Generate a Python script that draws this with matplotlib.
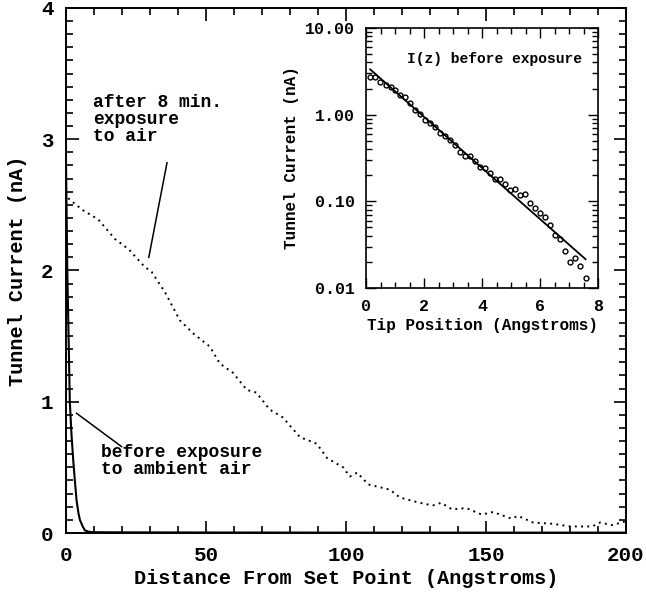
import matplotlib
matplotlib.use("Agg")
import matplotlib.pyplot as plt
from matplotlib.ticker import MultipleLocator, LogLocator, FixedLocator, NullFormatter

plt.rcParams['font.family'] = ['Liberation Mono', 'DejaVu Sans Mono']
plt.rcParams['font.weight'] = 'bold'
plt.rcParams['axes.labelweight'] = 'bold'

# main plot: current vs distance
after_x = [0.8, 6.0, 11.5, 17.5, 22.5, 28.0, 30.6, 35.5, 40.7, 45.5, 51.4, 55.0, 59.7,
           64.6, 68.0, 72.8, 77.5, 83.6, 89.6, 93.3, 99.0, 101.4, 104.0, 108.0, 115.7,
           119.3, 126.4, 131.0, 134.0, 137.9, 143.0, 148.5, 152.5, 159.0, 161.5, 166.8,
           174.0, 180.0, 188.0, 190.7, 195.0, 198.5, 200.0]
after_y = [2.55, 2.46, 2.39, 2.24, 2.16, 2.03, 1.99, 1.83, 1.62, 1.52, 1.42, 1.29, 1.22,
           1.09, 1.07, 0.94, 0.88, 0.73, 0.68, 0.57, 0.50, 0.43, 0.46, 0.37, 0.33,
           0.27, 0.23, 0.21, 0.23, 0.18, 0.19, 0.14, 0.16, 0.11, 0.13, 0.08,
           0.07, 0.05, 0.05, 0.08, 0.06, 0.08, 0.09]

before_x = [0.0, 0.5, 1.0, 1.4, 2.0, 2.6, 3.2, 3.8, 4.5, 5.0, 6.0, 6.8, 8.0, 10.0, 20.0,
            50.0, 100.0, 150.0, 200.0]
before_y = [2.9, 2.0, 1.45, 1.0, 0.75, 0.56, 0.40, 0.25, 0.15, 0.10, 0.05, 0.02, 0.01,
            0.006, 0.005, 0.004, 0.003, 0.003, 0.003]

# inset: log current vs tip position
tip_z = [0.14, 0.31, 0.48, 0.69, 0.85, 1.0, 1.17, 1.34, 1.52, 1.69, 1.86, 2.03, 2.2,
         2.38, 2.55, 2.72, 2.9, 3.07, 3.24, 3.41, 3.59, 3.76, 3.93, 4.1, 4.28, 4.45,
         4.62, 4.79, 4.97, 5.14, 5.31, 5.48, 5.66, 5.83, 6.0, 6.17, 6.34, 6.52, 6.69,
         6.86, 7.03, 7.21, 7.38, 7.57]
tip_i = [2.74, 2.7, 2.4, 2.2, 2.1, 1.93, 1.69, 1.59, 1.35, 1.13, 1.01, 0.87, 0.8,
         0.72, 0.61, 0.56, 0.51, 0.45, 0.37, 0.33, 0.33, 0.29, 0.25, 0.24, 0.21, 0.18,
         0.18, 0.16, 0.135, 0.138, 0.118, 0.122, 0.095, 0.083, 0.074, 0.066, 0.053,
         0.041, 0.037, 0.027, 0.020, 0.022, 0.018, 0.013]
fit_z = [0.14, 7.57]
fit_i = [3.34, 0.0215]

fig = plt.figure(figsize=(6.46, 5.96), dpi=100)
ax = fig.add_axes([0.102, 0.1057, 0.867, 0.881])

ax.plot(after_x, after_y, color='black', lw=1.4, linestyle=(0, (1, 2.2)))
ax.plot(before_x, before_y, color='black', lw=1.5)

ax.set_xlim(0, 200)
ax.set_ylim(0, 4)
ax.xaxis.set_major_locator(MultipleLocator(50))
ax.xaxis.set_minor_locator(MultipleLocator(10))
ax.yaxis.set_major_locator(MultipleLocator(1))
ax.yaxis.set_minor_locator(MultipleLocator(0.1))
ax.tick_params(which='both', direction='in', top=True, right=True, labelsize=15, width=1.2)
ax.tick_params(which='major', length=9, pad=9)
ax.tick_params(which='minor', length=5)
for s in ax.spines.values():
    s.set_linewidth(1.4)
ax.set_xlabel('Distance From Set Point (Angstroms)', fontsize=14.5, labelpad=3)
ax.set_ylabel('Tunnel Current (nA)', fontsize=14.5, labelpad=10)

ax.text(9.8, 3.15, 'after 8 min.\nexposure\nto air', fontsize=13, va='center',
        ha='left', linespacing=1.0)
ax.plot([36.1, 29.6], [2.82, 2.10], color='black', lw=1.1)
ax.text(12.5, 0.55, 'before exposure\nto ambient air', fontsize=13, va='center',
        ha='left', linespacing=1.0)
ax.plot([3.8, 19.9], [0.912, 0.658], color='black', lw=1.1)

# inset
ins = fig.add_axes([0.5666, 0.5168, 0.3591, 0.4362])
ins.plot(tip_z, tip_i, 'o', mfc='white', mec='black', ms=3.5, mew=1.0)
ins.plot(fit_z, fit_i, color='black', lw=1.3)
ins.set_yscale('log')
ins.set_xlim(0, 8)
ins.set_ylim(0.01, 10)
ins.xaxis.set_major_locator(MultipleLocator(2))
ins.xaxis.set_minor_locator(MultipleLocator(0.5))
ins.yaxis.set_major_locator(FixedLocator([0.01, 0.1, 1, 10]))
ins.yaxis.set_minor_locator(LogLocator(base=10, subs=(2, 3, 4, 5, 6, 7, 8, 9)))
ins.yaxis.set_minor_formatter(NullFormatter())
ins.set_yticklabels(['0.01', '0.10', '1.00', '10.00'])
ins.tick_params(which='both', direction='in', top=True, right=True, labelsize=12, width=1.0)
ins.tick_params(which='major', length=7, pad=8)
ins.tick_params(which='minor', length=4)
for s in ins.spines.values():
    s.set_linewidth(1.2)
ins.set_xlabel('Tip Position (Angstroms)', fontsize=11.5, labelpad=3)
ins.set_ylabel('Tunnel Current (nA)', fontsize=11.5, labelpad=4)
ins.text(0.93, 0.88, 'I(z) before exposure', transform=ins.transAxes, fontsize=10.5,
         ha='right', va='center')

fig.savefig('out.png', dpi=100)
